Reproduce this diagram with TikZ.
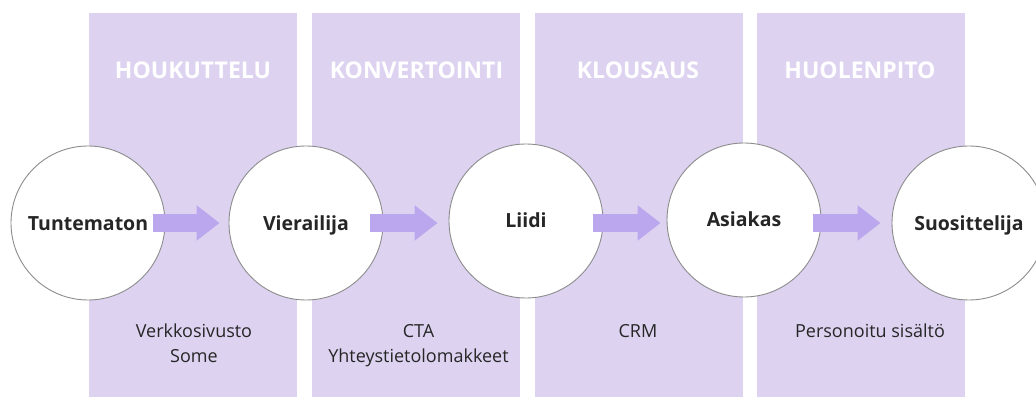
\documentclass[tikz,border=0pt]{standalone}
\usepackage{fontspec}
\setmainfont{Open Sans}
\usetikzlibrary{arrows.meta}
\definecolor{phasebg}{HTML}{DDD3F1}
\definecolor{flowc}{HTML}{BBA7EE}
\definecolor{ringc}{HTML}{8C8C8C}
\definecolor{txtc}{HTML}{262626}
\tikzset{
	phase/.style   = {rectangle, fill=phasebg, inner sep=0pt,
		minimum width=208pt, minimum height=384pt},
	stage/.style   = {circle, draw=ringc, line width=0.9pt, fill=white,
		minimum size=154pt, inner sep=0pt, text=txtc,
		text height=14pt, text depth=0pt,
		font=\fontsize{19.5}{22}\selectfont\bfseries},
	heading/.style = {text=white, anchor=base,
		font=\fontsize{23}{28}\selectfont\bfseries}, % phase title
	tool/.style    = {text=txtc, anchor=base, align=center,
		font=\fontsize{18}{25}\selectfont}, % channels below
	flow/.style    = {draw=flowc, line width=18pt}
}

\begin{document}
\begin{tikzpicture}[x=1pt, y=-1pt, >={Triangle[width=34pt,length=23pt]}]
	\clip (0,0) rectangle (1036,398);
	\draw
	node at (193,205) [phase] (p1) {}
	node at (415.5,205) [phase] (p2) {}
	node at (639,205) [phase] (p3) {}
	node at (861,205) [phase] (p4) {}
	node at (193,79) [heading] (h1) {HOUKUTTELU}
	node at (416.5,79) [heading] (h2) {KONVERTOINTI}
	node at (638,79) [heading] (h3) {KLOUSAUS}
	node at (860,79) [heading] (h4) {HUOLENPITO}
	node at (194,362) [tool] (k1) {Verkkosivusto\\Some}
	node at (418.5,362) [tool] (k2) {CTA\\Yhteystietolomakkeet}
	node at (638,337) [tool] (k3) {CRM}
	node at (870,337) [tool] (k4) {Personoitu sisältö};
	
	\draw
	node at (88,223) [stage] (t1) {Tuntematon}
	node at (306,223) [stage] (t2) {Vierailija}
	node at (526,221) [stage] (t3) {Liidi}
	node at (744,220) [stage] (t4) {Asiakas}
	node at (969,223) [stage] (t5) {Suosittelija};
	
	\draw[flow,->]([xshift=-12pt]t1.east)--([xshift=-9pt]t2.west);
	\draw[flow,->]([xshift=-13pt]t2.east)--([xshift=-11pt,yshift=-2pt]t3.west);
	\draw[flow,->]([xshift=-10pt,yshift=-2pt]t3.east)--([xshift=-6pt,yshift=-3pt]t4.west);
	\draw[flow,->]([xshift=-8pt,yshift=-3pt]t4.east)--([xshift=-11pt]t5.west);
	
\end{tikzpicture}
\end{document}
